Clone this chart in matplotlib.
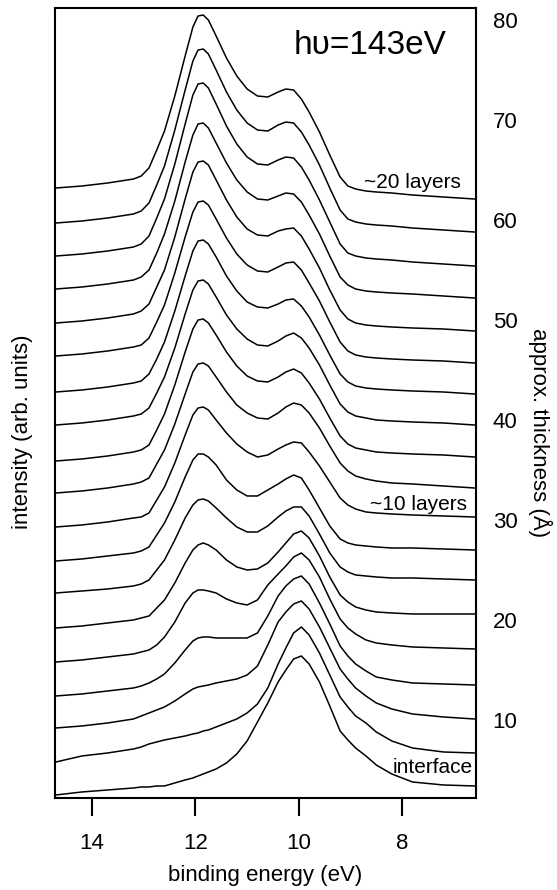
import matplotlib
matplotlib.use('Agg')
import matplotlib.pyplot as plt

# Helvetica-like font
plt.rcParams['font.family'] = ['Liberation Sans', 'DejaVu Sans']

# binding energy grid (eV)
energy = [14.7, 14.2, 13.7, 13.2, 13.05, 12.9, 12.75, 12.6, 12.4, 12.2, 12.05, 11.95,
          11.85, 11.75, 11.6, 11.4, 11.2, 11.0, 10.8, 10.6, 10.4, 10.25, 10.1, 9.95,
          9.8, 9.6, 9.4, 9.2, 9.05, 8.9, 8.7, 8.5, 8.2, 7.8, 7.2, 6.6]

# intensity (arb. units) of each spectrum, from interface (bottom) to top
spec_01 = [-0.9, -0.6, -0.4, -0.2, -0.1, -0.1, 0.0, 0.0, 0.3, 0.6, 0.8, 1.0,
           1.2, 1.4, 1.7, 2.3, 3.2, 4.5, 6.4, 8.3, 10.4, 11.6, 12.7, 13.0,
           12.2, 10.4, 8.0, 5.5, 4.6, 3.8, 3.0, 2.1, 1.2, 0.4, 0.1, 0.0]
spec_02 = [-0.9, -0.3, 0.0, 0.4, 0.6, 0.9, 1.1, 1.3, 1.5, 1.7, 1.9, 2.0,
           2.2, 2.3, 2.6, 3.0, 3.4, 4.0, 4.9, 6.5, 8.9, 10.5, 12.0, 12.6,
           11.8, 10.0, 7.8, 5.6, 4.6, 3.7, 3.0, 2.1, 1.2, 0.5, 0.1, 0.0]
spec_03 = [-0.9, -0.7, -0.4, 0.0, 0.3, 0.6, 0.9, 1.2, 1.8, 2.5, 3.0, 3.2,
           3.3, 3.4, 3.6, 3.8, 4.0, 4.4, 5.3, 7.4, 9.7, 10.7, 11.5, 11.8,
           11.0, 9.2, 7.1, 5.0, 4.0, 3.1, 2.3, 1.6, 1.0, 0.5, 0.2, 0.0]
spec_04 = [-1.1, -0.9, -0.6, -0.3, -0.1, 0.2, 0.6, 1.1, 2.2, 3.5, 4.4, 4.7,
           4.8, 4.8, 4.7, 4.7, 4.7, 4.7, 5.2, 6.9, 8.9, 9.9, 10.6, 10.9,
           10.1, 8.2, 6.1, 3.9, 2.9, 2.1, 1.4, 0.8, 0.5, 0.2, 0.1, 0.0]
spec_05 = [-1.3, -1.1, -0.8, -0.5, -0.3, -0.1, 0.4, 1.2, 2.7, 4.6, 5.6, 5.9,
           5.9, 5.8, 5.6, 5.0, 4.6, 4.4, 4.9, 6.4, 7.5, 8.3, 9.2, 9.6,
           8.9, 7.2, 5.0, 3.0, 2.1, 1.5, 0.9, 0.6, 0.4, 0.2, 0.1, 0.0]
spec_06 = [-1.4, -1.2, -0.9, -0.6, -0.4, -0.2, 0.6, 1.4, 3.1, 5.1, 6.4, 6.9,
           7.1, 6.9, 6.4, 5.4, 4.7, 4.4, 4.5, 5.1, 6.2, 7.1, 8.0, 8.3,
           7.6, 5.8, 3.7, 1.9, 1.2, 0.7, 0.4, 0.2, 0.1, 0.0, 0.0, 0.0]
spec_07 = [-1.3, -1.1, -0.9, -0.6, -0.4, 0.0, 1.0, 2.0, 4.0, 6.2, 7.5, 8.0,
           8.1, 7.9, 7.2, 6.2, 5.3, 4.8, 4.8, 5.4, 6.3, 6.9, 7.3, 7.3,
           6.4, 4.6, 2.7, 1.3, 0.8, 0.5, 0.4, 0.3, 0.2, 0.2, 0.1, 0.0]
spec_08 = [-1.1, -0.9, -0.6, -0.3, -0.1, 0.3, 1.5, 2.7, 4.8, 7.3, 9.0, 9.6,
           9.6, 9.3, 8.5, 7.0, 6.0, 5.4, 5.4, 6.0, 6.6, 7.1, 7.5, 7.2,
           6.0, 4.2, 2.4, 1.1, 0.7, 0.5, 0.4, 0.3, 0.2, 0.2, 0.1, 0.0]
spec_09 = [-1.0, -0.8, -0.5, -0.1, 0.0, 0.4, 1.7, 3.0, 5.4, 8.2, 10.2, 10.9,
           11.0, 10.7, 9.7, 8.4, 7.3, 6.5, 6.0, 6.2, 6.8, 7.2, 7.5, 7.4,
           6.5, 5.1, 3.5, 1.9, 1.2, 0.8, 0.5, 0.4, 0.3, 0.2, 0.1, 0.0]
spec_10 = [-0.5, -0.3, 0.0, 0.4, 0.6, 1.0, 2.4, 3.8, 6.4, 9.4, 11.6, 12.4,
           12.5, 12.2, 11.1, 9.6, 8.3, 7.5, 7.0, 6.9, 7.5, 8.1, 8.5, 8.3,
           7.5, 6.0, 4.2, 2.5, 1.7, 1.2, 0.9, 0.7, 0.5, 0.4, 0.2, 0.0]
spec_11 = [-0.4, -0.2, 0.1, 0.5, 0.7, 1.2, 2.7, 4.3, 7.2, 10.5, 12.8, 13.7,
           13.8, 13.4, 12.2, 10.5, 9.1, 8.1, 7.6, 7.5, 8.0, 8.5, 8.8, 8.4,
           7.4, 5.8, 3.9, 2.1, 1.3, 0.9, 0.7, 0.5, 0.4, 0.3, 0.2, 0.0]
spec_12 = [0.0, 0.2, 0.5, 0.9, 1.1, 1.7, 3.2, 4.8, 7.7, 11.1, 13.5, 14.4,
           14.5, 14.1, 12.8, 11.0, 9.6, 8.6, 8.0, 7.9, 8.4, 8.9, 9.2, 8.7,
           7.7, 6.0, 4.0, 2.1, 1.3, 0.9, 0.7, 0.5, 0.4, 0.3, 0.2, 0.0]
spec_13 = [0.2, 0.4, 0.7, 1.1, 1.3, 2.0, 3.5, 5.2, 8.3, 11.8, 14.3, 15.3,
           15.4, 15.0, 13.7, 11.8, 10.3, 9.2, 8.7, 8.6, 9.0, 9.4, 9.5, 8.8,
           7.7, 5.9, 3.9, 2.0, 1.2, 0.8, 0.6, 0.5, 0.4, 0.3, 0.2, 0.0]
spec_14 = [0.7, 0.9, 1.2, 1.6, 1.8, 2.5, 4.1, 5.8, 9.0, 12.6, 15.1, 16.1,
           16.2, 15.8, 14.4, 12.5, 10.9, 9.8, 9.2, 9.1, 9.6, 10.0, 10.1, 9.3,
           8.0, 6.2, 4.1, 2.1, 1.2, 0.8, 0.6, 0.5, 0.4, 0.3, 0.2, 0.0]
spec_15 = [0.8, 1.0, 1.3, 1.7, 2.0, 2.7, 4.4, 6.1, 9.4, 13.2, 15.9, 16.9,
           17.0, 16.6, 15.1, 13.1, 11.4, 10.2, 9.6, 9.5, 10.0, 10.2, 10.3, 9.5,
           8.2, 6.3, 4.1, 2.1, 1.2, 0.8, 0.6, 0.5, 0.4, 0.3, 0.2, 0.0]
spec_16 = [0.9, 1.1, 1.4, 1.8, 2.1, 2.8, 4.5, 6.4, 9.7, 13.6, 16.3, 17.4,
           17.5, 17.0, 15.5, 13.5, 11.8, 10.6, 9.9, 9.8, 10.2, 10.5, 10.4, 9.6,
           8.3, 6.4, 4.2, 2.1, 1.3, 0.9, 0.7, 0.6, 0.5, 0.4, 0.2, 0.0]
spec_17 = [1.0, 1.2, 1.5, 1.9, 2.2, 3.0, 4.8, 6.7, 10.2, 14.2, 17.1, 18.2,
           18.3, 17.8, 16.2, 14.0, 12.2, 10.9, 10.2, 10.1, 10.6, 10.9, 10.8, 9.9,
           8.6, 6.6, 4.4, 2.2, 1.3, 1.0, 0.8, 0.7, 0.6, 0.4, 0.2, 0.0]
spec_18 = [0.9, 1.1, 1.4, 1.8, 2.1, 2.9, 4.7, 6.6, 10.2, 14.2, 17.1, 18.2,
           18.3, 17.8, 16.2, 14.0, 12.2, 10.9, 10.2, 10.1, 10.7, 11.0, 10.9, 10.0,
           8.7, 6.7, 4.4, 2.2, 1.3, 1.0, 0.8, 0.7, 0.6, 0.4, 0.2, 0.0]
spec_19 = [1.1, 1.3, 1.6, 2.0, 2.3, 3.1, 4.9, 6.8, 10.3, 14.3, 17.2, 18.3,
           18.4, 17.9, 16.3, 14.1, 12.3, 11.0, 10.3, 10.2, 10.7, 11.0, 10.9, 10.0,
           8.7, 6.7, 4.4, 2.2, 1.3, 1.0, 0.8, 0.7, 0.6, 0.4, 0.2, 0.0]

spectra = [spec_01, spec_02, spec_03, spec_04, spec_05, spec_06, spec_07, spec_08, spec_09, spec_10,
           spec_11, spec_12, spec_13, spec_14, spec_15, spec_16, spec_17, spec_18, spec_19]

# approx. film thickness (Angstrom) of each spectrum, used as vertical offset
thickness = [3.4, 6.7, 10.1, 13.5, 17.1, 20.6, 24.0, 27.0, 30.3, 33.2,
             36.3, 39.5, 42.6, 45.7, 48.9, 52.2, 55.4, 58.8, 62.1]

energy_ticks = [14, 12, 10, 8]
thickness_ticks = [10, 20, 30, 40, 50, 60, 70, 80]

fig = plt.figure(figsize=(5.57, 8.9), dpi=100)
ax = fig.add_axes([0.0987, 0.1034, 0.7558, 0.8876])

for off, spec in zip(thickness, spectra):
    ax.plot(energy, [off + v for v in spec], color='black', lw=1.1)

ax.set_xlim(14.72, 6.57)
ax.set_ylim(2.2, 81.2)

ax.set_xticks(energy_ticks)
ax.tick_params(axis='x', direction='out', length=13, width=1.5, labelsize=16, pad=12)
ax.yaxis.tick_right()
ax.set_yticks(thickness_ticks)
ax.tick_params(axis='y', length=0, labelsize=16, pad=12)
for s in ax.spines.values():
    s.set_linewidth(1.5)

ax.set_xlabel('binding energy (eV)', fontsize=16, labelpad=8)
ax.text(1.152, 0.463, 'approx. thickness (Å)', rotation=270, fontsize=16,
        ha='center', va='center', transform=ax.transAxes)
ax.text(-0.078, 0.463, 'intensity (arb. units)', rotation=90, fontsize=16,
        ha='center', va='center', transform=ax.transAxes)

# annotations
ax.text(0.748, 0.953, 'h\u03c5=143eV', fontsize=24, ha='center', va='center',
        transform=ax.transAxes)
ax.text(0.965, 0.779, '~20 layers', fontsize=15, ha='right', va='center',
        transform=ax.transAxes)
ax.text(0.978, 0.371, '~10 layers', fontsize=15, ha='right', va='center',
        transform=ax.transAxes)
ax.text(0.992, 0.039, 'interface', fontsize=15, ha='right', va='center',
        transform=ax.transAxes)

fig.savefig('out.png', dpi=100)
